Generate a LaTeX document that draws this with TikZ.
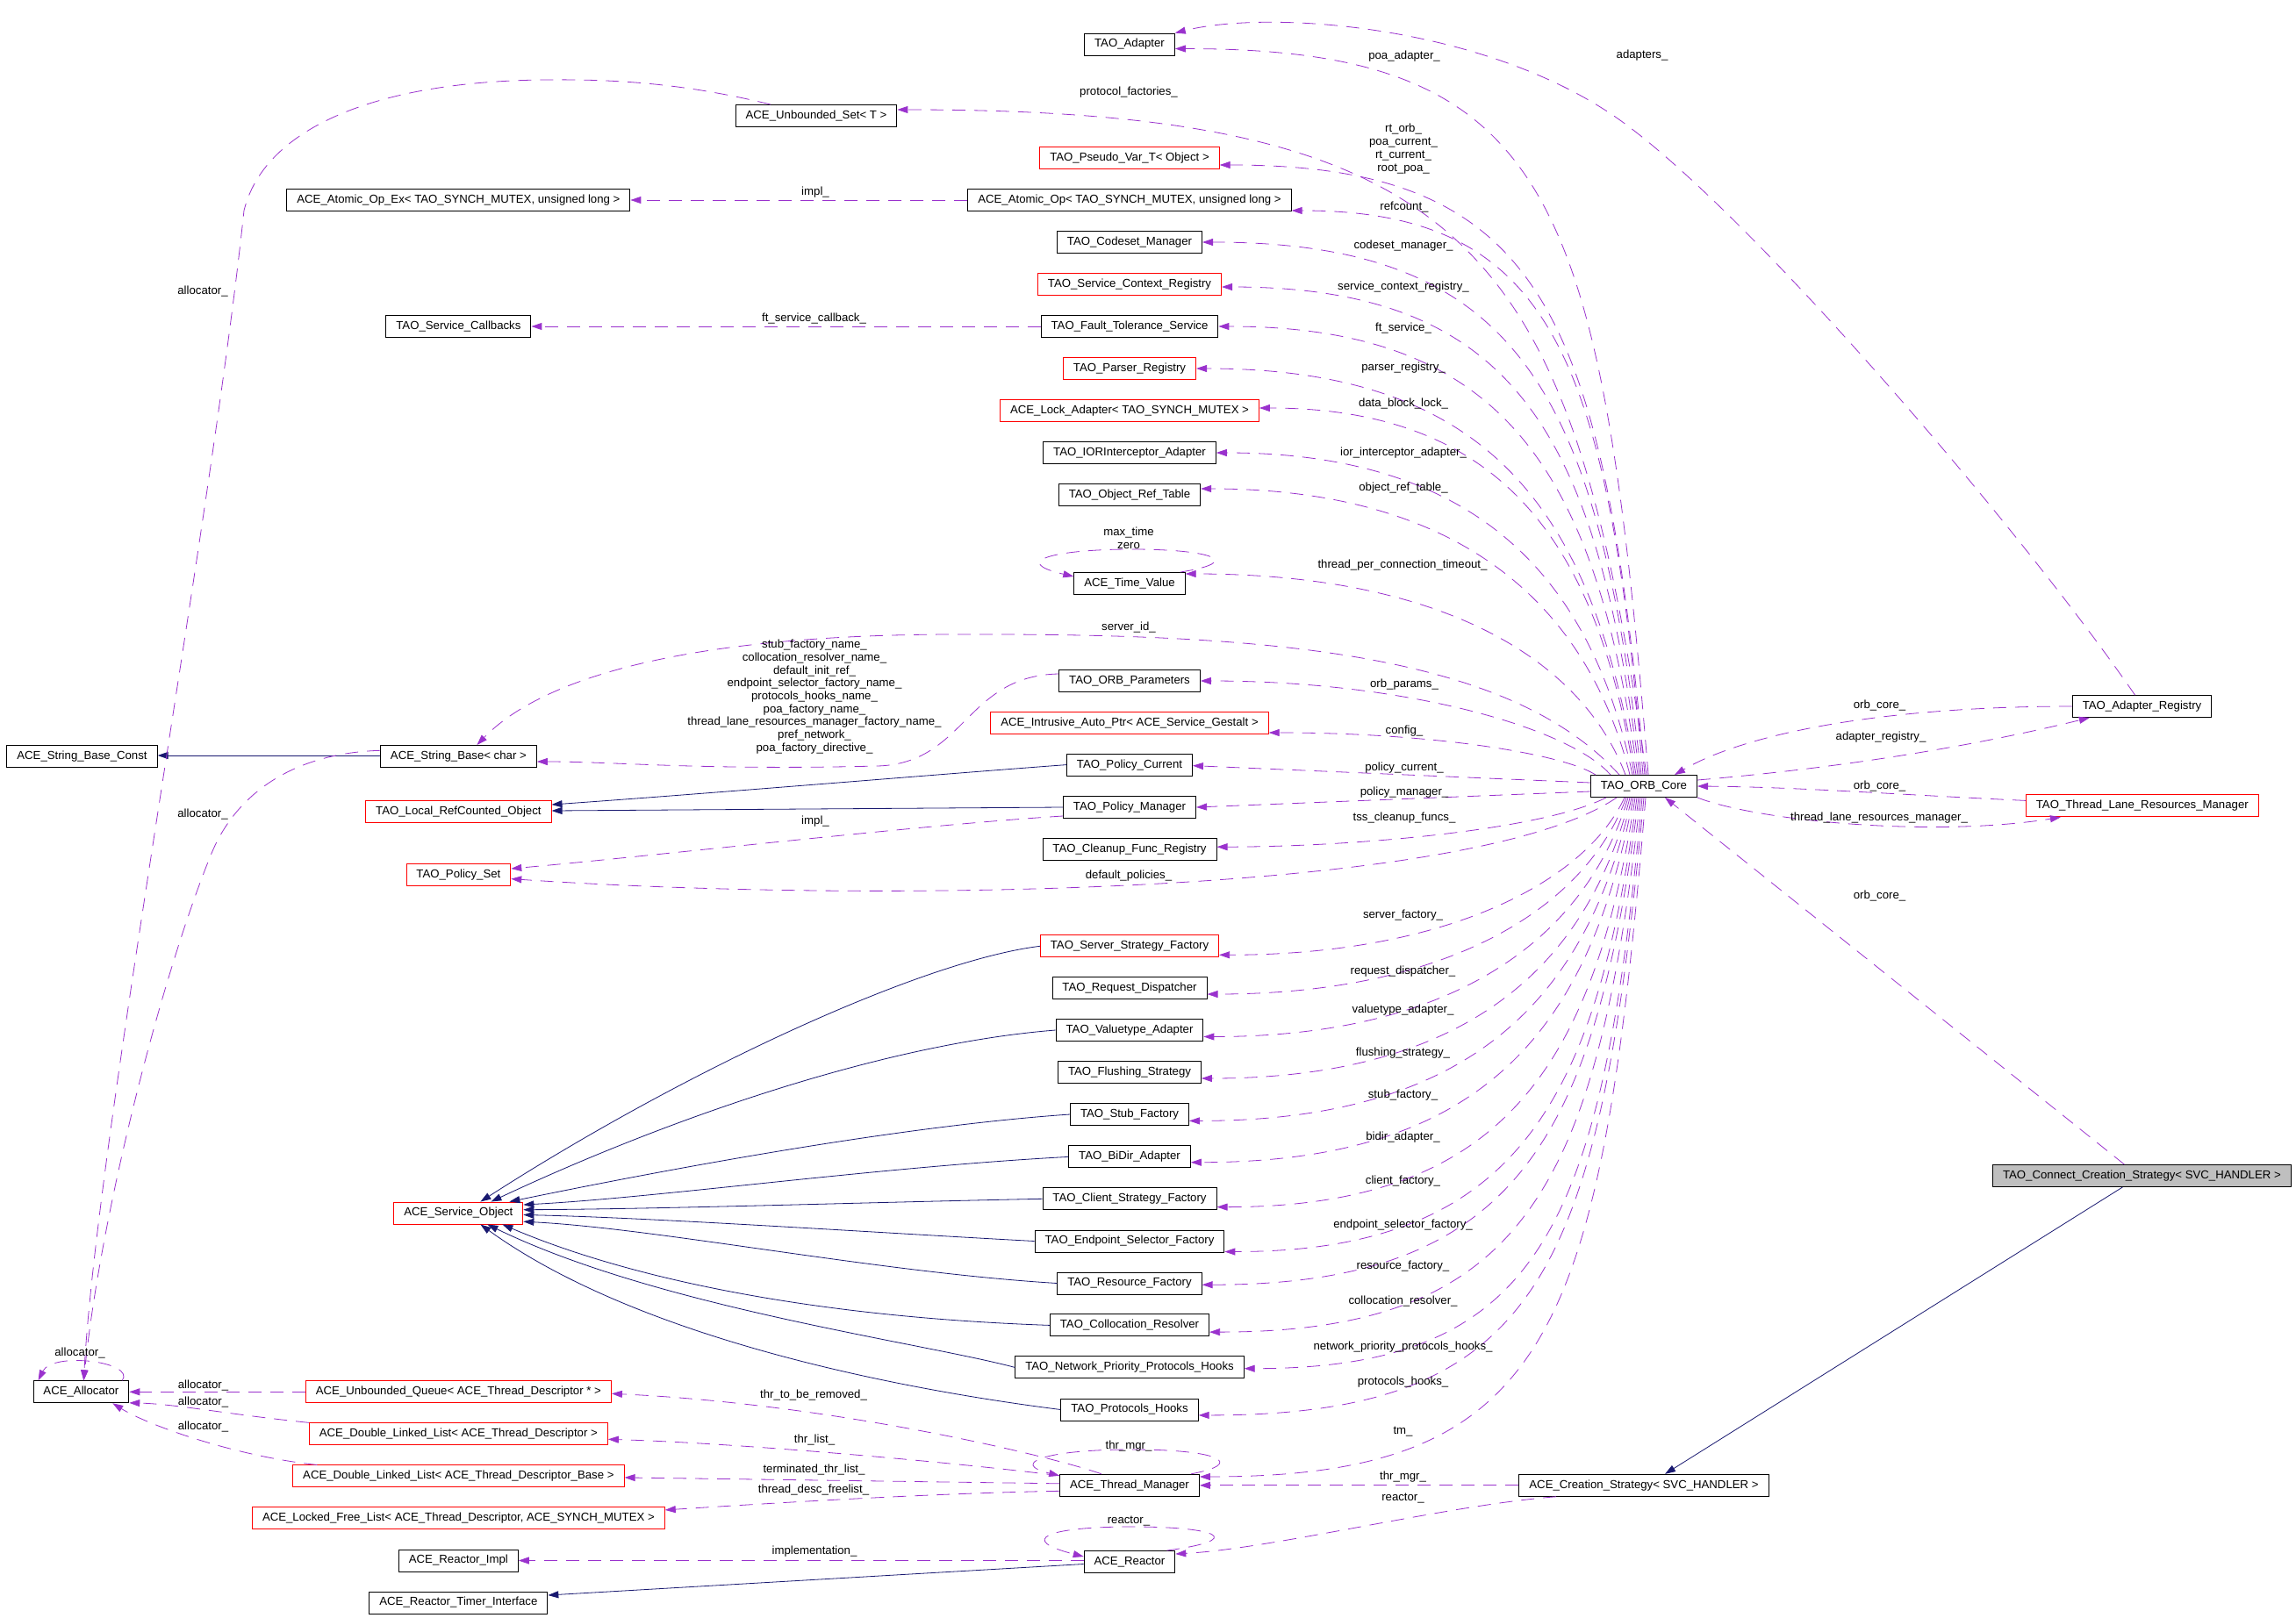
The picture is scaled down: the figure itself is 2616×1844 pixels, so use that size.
\documentclass[tikz,border=0pt]{standalone}
\usepackage{fontspec}
\setmainfont{Liberation Sans}
\usetikzlibrary{arrows.meta, calc}

\definecolor{usepurple}{HTML}{9A32CD}
\definecolor{inhnavy}{HTML}{191970}
\definecolor{selfgray}{HTML}{BFBFBF}

\begin{document}
\begin{tikzpicture}[x=1pt, y=-1pt,
  cls/.style={draw, line width=0.9pt, fill=white, minimum height=25pt, inner xsep=11.5pt, inner ysep=0pt, font=\fontsize{13.2}{15}\selectfont},
  part/.style={cls, draw=red},
  focus/.style={cls, fill=selfgray},
  lbl/.style={inner sep=0pt, align=center, font=\fontsize{13.2}{14.7}\selectfont},
  use/.style={draw=usepurple, line width=0.8pt, dash pattern=on 15pt off 10pt, -{Triangle[length=12pt,width=8pt]}},
  inh/.style={draw=inhnavy, line width=0.8pt, -{Triangle[length=12pt,width=8pt]}},
  fan/.style={to path={let \p1=(\tikztostart), \p2=(\tikztotarget) in
      .. controls ({\x1-0.1*(\x1-\x2)},{\y2+#1*(\y1-\y2)}) and ({\x2+(1-#1)*(\x1-\x2)},\y2) .. (\p2)}},
  fan/.default=0.3]
	\useasboundingbox (0,0) rectangle (2616,1844);

	% middle column
	\node [cls]  (adapter) at (1287,50.5)   {TAO\_Adapter};
	\node [part] (pvar)    at (1287,180)    {TAO\_Pseudo\_Var\_T< Object >};
	\node [cls]  (aop)     at (1287,228)    {ACE\_Atomic\_Op< TAO\_SYNCH\_MUTEX, unsigned long >};
	\node [cls]  (codeset) at (1287,276)    {TAO\_Codeset\_Manager};
	\node [part] (scr)     at (1287,324)    {TAO\_Service\_Context\_Registry};
	\node [cls]  (fts)     at (1287,372)    {TAO\_Fault\_Tolerance\_Service};
	\node [part] (parser)  at (1287,420)    {TAO\_Parser\_Registry};
	\node [part] (lock)    at (1287,468)    {ACE\_Lock\_Adapter< TAO\_SYNCH\_MUTEX >};
	\node [cls]  (ior)     at (1287,516)    {TAO\_IORInterceptor\_Adapter};
	\node [cls]  (ort)     at (1287,564)    {TAO\_Object\_Ref\_Table};
	\node [cls]  (tv)      at (1287,665)    {ACE\_Time\_Value};
	\node [cls]  (params)  at (1287,776)    {TAO\_ORB\_Parameters};
	\node [part] (iap)     at (1287,824)    {ACE\_Intrusive\_Auto\_Ptr< ACE\_Service\_Gestalt >};
	\node [cls]  (pcur)    at (1287,871.6)  {TAO\_Policy\_Current};
	\node [cls]  (pman)    at (1287,920)    {TAO\_Policy\_Manager};
	\node [cls]  (cfr)     at (1287,967.7)  {TAO\_Cleanup\_Func\_Registry};
	\node [part] (ssf)     at (1287,1078.3) {TAO\_Server\_Strategy\_Factory};
	\node [cls]  (rd)      at (1287,1126)   {TAO\_Request\_Dispatcher};
	\node [cls]  (vta)     at (1287,1174)   {TAO\_Valuetype\_Adapter};
	\node [cls]  (fs)      at (1287,1222)   {TAO\_Flushing\_Strategy};
	\node [cls]  (sf)      at (1287,1270)   {TAO\_Stub\_Factory};
	\node [cls]  (bidir)   at (1287,1318.4) {TAO\_BiDir\_Adapter};
	\node [cls]  (csf)     at (1287,1366.3) {TAO\_Client\_Strategy\_Factory};
	\node [cls]  (esf)     at (1287,1414.5) {TAO\_Endpoint\_Selector\_Factory};
	\node [cls]  (rf)      at (1287,1462.5) {TAO\_Resource\_Factory};
	\node [cls]  (cr)      at (1287,1510.4) {TAO\_Collocation\_Resolver};
	\node [cls]  (npph)    at (1287,1558.4) {TAO\_Network\_Priority\_Protocols\_Hooks};
	\node [cls]  (ph)      at (1287,1606.5) {TAO\_Protocols\_Hooks};
	\node [cls]  (tm)      at (1287,1692.8) {ACE\_Thread\_Manager};
	\node [cls]  (reactor) at (1287,1780)   {ACE\_Reactor};

	% left column
	\node [cls]  (aopex) at (522.4,228)    {ACE\_Atomic\_Op\_Ex< TAO\_SYNCH\_MUTEX, unsigned long >};
	\node [cls]  (scb)   at (522.4,372)    {TAO\_Service\_Callbacks};
	\node [cls]  (sbase) at (522.4,862)    {ACE\_String\_Base< char >};
	\node [part] (lrco)  at (522.4,925)    {TAO\_Local\_RefCounted\_Object};
	\node [part] (pset)  at (522.4,997)    {TAO\_Policy\_Set};
	\node [part] (so)    at (522.4,1382.5) {ACE\_Service\_Object};
	\node [part] (uq)    at (522.4,1586.3) {ACE\_Unbounded\_Queue< ACE\_Thread\_Descriptor * >};
	\node [part] (dll)   at (522.4,1634.3) {ACE\_Double\_Linked\_List< ACE\_Thread\_Descriptor >};
	\node [part] (dllb)  at (522.4,1682.4) {ACE\_Double\_Linked\_List< ACE\_Thread\_Descriptor\_Base >};
	\node [part] (lfl)   at (522.4,1730.4) {ACE\_Locked\_Free\_List< ACE\_Thread\_Descriptor, ACE\_SYNCH\_MUTEX >};
	\node [cls]  (rimpl) at (522.4,1778.5) {ACE\_Reactor\_Impl};
	\node [cls]  (rti)   at (522.4,1826.5) {ACE\_Reactor\_Timer\_Interface};

	\node [cls]   (uset)  at (930,132)       {ACE\_Unbounded\_Set< T >};
	\node [cls]   (sbc)   at (93.5,862)      {ACE\_String\_Base\_Const};
	\node [cls]   (alloc) at (92.4,1586.3)   {ACE\_Allocator};
	\node [cls]   (core)  at (1873,896)      {TAO\_ORB\_Core};
	\node [cls]   (cs)    at (1873,1692.8)   {ACE\_Creation\_Strategy< SVC\_HANDLER >};
	\node [cls]   (areg)  at (2440.5,805)    {TAO\_Adapter\_Registry};
	\node [part]  (tlrm)  at (2440.8,918.4)  {TAO\_Thread\_Lane\_Resources\_Manager};
	\node [focus] (ccs)   at (2440.4,1340)   {TAO\_Connect\_Creation\_Strategy< SVC\_HANDLER >};

	% ORB core, upper members
	\draw[use] ([xshift=5pt]core.north)   to[fan=0.2]  ([yshift=-5pt]adapter.east);
	\draw[use] ([xshift=3pt]core.north)   to[fan=0.22] ([yshift=7pt]uset.east);
	\draw[use] ([xshift=1pt]core.north)   to[fan=0.24] ([yshift=-8pt]pvar.east);
	\draw[use] ([xshift=-1pt]core.north)  to[fan=0.26] ([yshift=-12pt]aop.east);
	\draw[use] ([xshift=-3pt]core.north)  to[fan=0.28] (codeset.east);
	\draw[use] ([xshift=-5pt]core.north)  to[fan=0.3]  ([yshift=-3pt]scr.east);
	\draw[use] ([xshift=-7pt]core.north)  to[fan=0.32] (fts.east);
	\draw[use] ([xshift=-9pt]core.north)  to[fan=0.34] (parser.east);
	\draw[use] ([xshift=-11pt]core.north) to[fan=0.36] ([yshift=3pt]lock.east);
	\draw[use] ([xshift=-13pt]core.north) to[fan=0.38] (ior.east);
	\draw[use] ([xshift=-16pt]core.north) to[fan=0.4]  ([yshift=7pt]ort.east);
	\draw[use] ([xshift=-21pt]core.north) to[fan=0.42] ([yshift=11pt]tv.east);
	\draw[use] ([xshift=-28pt]core.north) .. controls (1720,745) and (1450,722) .. (1100,723)
		.. controls (760,722) and (610,780) .. ([xshift=21pt]sbase.north);
	\draw[use] ([xshift=-38pt]core.north) to[fan=0.5] (params.east);
	\draw[use] ([xshift=-55pt]core.north) to[fan=0.5] ([yshift=-11pt]iap.east);
	\draw[use] ([yshift=4pt]core.west) -- ([yshift=-1pt]pcur.east);
	\draw[use] ([yshift=-6pt]core.west) -- (pman.east);
	\draw[use] ([xshift=18pt]core.south west) .. controls (1760,945) and (1550,965) .. ([yshift=2.5pt]cfr.east);
	\draw[use] ([xshift=30pt]core.south west) .. controls (1680,1020) and (1000,1030) .. ([yshift=-4.6pt]pset.east);

	% ORB core, lower members
	\draw[use] ([xshift=-22pt]core.south) to[fan=0.45] ([yshift=-10pt]ssf.east);
	\draw[use] ([xshift=-20pt]core.south) to[fan=0.43] ([yshift=-7pt]rd.east);
	\draw[use] ([xshift=-18pt]core.south) to[fan=0.41] ([yshift=-7.5pt]vta.east);
	\draw[use] ([xshift=-16pt]core.south) to[fan=0.39] ([yshift=-7pt]fs.east);
	\draw[use] ([xshift=-14pt]core.south) to[fan=0.37] ([yshift=-7.4pt]sf.east);
	\draw[use] ([xshift=-12pt]core.south) to[fan=0.35] ([yshift=-6.3pt]bidir.east);
	\draw[use] ([xshift=-10pt]core.south) to[fan=0.33] ([yshift=-9.3pt]csf.east);
	\draw[use] ([xshift=-8pt]core.south)  to[fan=0.31] ([yshift=-12pt]esf.east);
	\draw[use] ([xshift=-6pt]core.south)  to[fan=0.29] ([yshift=-1.7pt]rf.east);
	\draw[use] ([xshift=-4pt]core.south)  to[fan=0.27] ([yshift=-7.7pt]cr.east);
	\draw[use] ([xshift=-2pt]core.south)  to[fan=0.25] ([yshift=-1.3pt]npph.east);
	\draw[use] (core.south)               to[fan=0.23] ([yshift=-6.4pt]ph.east);
	\draw[use] ([xshift=2pt]core.south)   to[fan=0.21] ([yshift=9.8pt]tm.east);

	% right side
	\draw[use] (areg.west) .. controls (2150,805) and (1990,835) .. ([xshift=-26pt]core.north east);
	\draw[use] ([yshift=7pt]core.east) .. controls (2100,875) and (2250,850) .. ([xshift=20pt]areg.south west);
	\draw[use] ([yshift=6pt]tlrm.west) .. controls (2150,905) and (2050,897) .. (core.east);
	\draw[use] (core.south east) .. controls (2000,935) and (2200,955) .. ([xshift=40pt]tlrm.south west);
	\draw[use] ([xshift=-20pt]ccs.north) -- ([xshift=24pt]core.south);
	\draw[inh] ([xshift=-22pt]ccs.south) -- ([xshift=24pt]cs.north);
	\draw[use] ([xshift=-8pt]areg.north) .. controls (2300,600) and (2000,250) .. (1850,140)
		.. controls (1700,30) and (1450,10) .. (adapter.north east);

	% left part
	\draw[use] (aop.west) -- (aopex.east);
	\draw[use] (fts.west) -- (scb.east);
	\draw[inh] ([yshift=1pt]sbase.west) -- ([yshift=1pt]sbc.east);
	\draw[use] ([yshift=8pt]params.west) .. controls (1100,770) and (1100,870) .. (1000,873)
		.. controls (800,878) and (700,868) .. ([yshift=-6pt]sbase.east);
	\draw[inh] (pcur.west) .. controls (1100,880) and (800,905) .. ([yshift=8pt]lrco.east);
	\draw[inh] (pman.west) -- ([yshift=1pt]lrco.east);
	\draw[use] ([yshift=-10pt]pman.west) .. controls (1050,940) and (750,975) .. ([yshift=7pt]pset.east);
	\draw[use] ([xshift=-52pt]uset.north) .. controls (780,95) and (700,90) .. (620,91)
		.. controls (420,93) and (300,150) .. (278,240)
		.. controls (240,600) and (110,1300) .. ([xshift=3pt]alloc.north);
	\draw[use] ([yshift=6.7pt]sbase.west) .. controls (340,858) and (270,900) .. (240,975)
		.. controls (185,1110) and (115,1380) .. ([xshift=3pt]alloc.north);
	\draw[use] ([xshift=-8pt]alloc.north east) .. controls (155,1552) and (60,1540) .. ([xshift=6pt]alloc.north west);

	% service objects
	\draw[inh] (ssf.west)   .. controls (1050,1095) and (780,1220) .. ([xshift=25pt]so.north);
	\draw[inh] (vta.west)   .. controls (1000,1190) and (750,1280) .. ([xshift=37pt]so.north);
	\draw[inh] (sf.west)    .. controls (1000,1285) and (700,1345) .. ([xshift=58pt]so.north);
	\draw[inh] (bidir.west) .. controls (1000,1330) and (750,1365) .. ([yshift=9.5pt]so.east);
	\draw[inh] (csf.west)   .. controls (1000,1370) and (750,1378) .. ([yshift=3.8pt]so.east);
	\draw[inh] (esf.west)   .. controls (1000,1405) and (750,1388) .. ([yshift=-2pt]so.east);
	\draw[inh] (rf.west)    .. controls (1000,1450) and (750,1400) .. ([yshift=-9.7pt]so.east);
	\draw[inh] (cr.west)    .. controls (900,1500) and (700,1450) .. ([xshift=50pt]so.south);
	\draw[inh] (npph.west)  .. controls (1050,1530) and (750,1490) .. ([xshift=33pt]so.south);
	\draw[inh] (ph.west)    .. controls (1000,1580) and (720,1520) .. ([xshift=25pt]so.south);

	% thread manager and reactor
	\draw[use] ([xshift=-32pt]tm.north) .. controls (1200,1660) and (950,1600) .. ([yshift=-2pt]uq.east);
	\draw[use] ([yshift=11pt]tm.west) .. controls (1100,1668) and (850,1645) .. ([yshift=-6pt]dll.east);
	\draw[use] ([yshift=2pt]tm.west) -- ([yshift=-1.5pt]dllb.east);
	\draw[use] ([yshift=-6.5pt]tm.west) .. controls (1050,1702) and (850,1715) .. ([yshift=9.5pt]lfl.east);
	\draw[use] ([xshift=-10pt]tm.north east) .. controls (1420,1668) and (1390,1652) .. (1290,1652)
		.. controls (1190,1652) and (1150,1668) .. ([yshift=11pt]tm.west);
	\draw[use] (cs.west) -- (tm.east);
	\draw[use] ([xshift=-100pt]cs.south) .. controls (1650,1715) and (1450,1765) .. ([yshift=9pt]reactor.east);
	\draw[use] ([xshift=-10pt]reactor.north east) .. controls (1420,1755) and (1390,1740) .. (1290,1740)
		.. controls (1190,1740) and (1160,1755) .. ([yshift=6pt]reactor.west);
	\draw[use] ([yshift=1.5pt]reactor.west) -- (rimpl.east);
	\draw[inh] ([yshift=-2.5pt]reactor.west) -- ([yshift=8.5pt]rti.east);
	\draw[use] ([xshift=-6pt]tv.north east) .. controls (1420,640) and (1380,626) .. (1290,626)
		.. controls (1200,626) and (1150,640) .. ([yshift=8pt]tv.west);

	% allocator
	\draw[use] (uq.west) -- (alloc.east);
	\draw[use] (dll.north west) .. controls (260,1612) and (200,1600) .. ([yshift=-12.5pt]alloc.east);
	\draw[use] ([xshift=28pt]dllb.north west) .. controls (270,1660) and (170,1625) .. ([xshift=-19pt]alloc.south east);

	% labels
	\node[lbl] (l-adapters) at (1871,63.3)   {adapters\_};
	\node[lbl] (l-poa)      at (1600,64.5)   {poa\_adapter\_};
	\node[lbl] (l-proto)    at (1286,105)    {protocol\_factories\_};
	\node[lbl] (l-pvar)     at (1599,169.6)  {rt\_orb\_\\poa\_current\_\\rt\_current\_\\root\_poa\_};
	\node[lbl] (l-refcount) at (1600,236.5)  {refcount\_};
	\node[lbl] (l-codeset)  at (1599,279.6)  {codeset\_manager\_};
	\node[lbl] (l-scr)      at (1599,327.4)  {service\_context\_registry\_};
	\node[lbl] (l-fts)      at (1599,374)    {ft\_service\_};
	\node[lbl] (l-parser)   at (1599,419.5)  {parser\_registry\_};
	\node[lbl] (l-lock)     at (1599,460)    {data\_block\_lock\_};
	\node[lbl] (l-ior)      at (1599,515.6)  {ior\_interceptor\_adapter\_};
	\node[lbl] (l-ort)      at (1599,556.3)  {object\_ref\_table\_};
	\node[lbl] (l-tvself)   at (1286,613.5)  {max\_time\\zero};
	\node[lbl] (l-tv)       at (1598,643.7)  {thread\_per\_connection\_timeout\_};
	\node[lbl] (l-sid)      at (1286,714.9)  {server\_id\_};
	\node[lbl] (l-params)   at (1600,779.7)  {orb\_params\_};
	\node[lbl] (l-config)   at (1600,832.7)  {config\_};
	\node[lbl] (l-pcur)     at (1600,874.6)  {policy\_current\_};
	\node[lbl] (l-pman)     at (1600,902.7)  {policy\_manager\_};
	\node[lbl] (l-cfr)      at (1600,931.6)  {tss\_cleanup\_funcs\_};
	\node[lbl] (l-dpol)     at (1286,998.4)  {default\_policies\_};
	\node[lbl] (l-ssf)      at (1598.5,1043.5) {server\_factory\_};
	\node[lbl] (l-rd)       at (1598.5,1107.5) {request\_dispatcher\_};
	\node[lbl] (l-vta)      at (1598.5,1151.4) {valuetype\_adapter\_};
	\node[lbl] (l-fs)       at (1598.5,1199.7) {flushing\_strategy\_};
	\node[lbl] (l-sf)       at (1598.5,1247.7) {stub\_factory\_};
	\node[lbl] (l-bidir)    at (1598.5,1296.2) {bidir\_adapter\_};
	\node[lbl] (l-csf)      at (1598.5,1346.3) {client\_factory\_};
	\node[lbl] (l-esf)      at (1598.5,1396.4) {endpoint\_selector\_factory\_};
	\node[lbl] (l-rf)       at (1598.5,1443.4) {resource\_factory\_};
	\node[lbl] (l-cr)       at (1598.5,1482.7) {collocation\_resolver\_};
	\node[lbl] (l-npph)     at (1598.5,1535.5) {network\_priority\_protocols\_hooks\_};
	\node[lbl] (l-ph)       at (1598.5,1575.5) {protocols\_hooks\_};
	\node[lbl] (l-tm)       at (1598.5,1631.8) {tm\_};
	\node[lbl] (l-tmself)   at (1286,1648)     {thr\_mgr\_};
	\node[lbl] (l-csthr)    at (1598.5,1683.4) {thr\_mgr\_};
	\node[lbl] (l-csreac)   at (1598.5,1707.3) {reactor\_};
	\node[lbl] (l-reself)   at (1286,1734)     {reactor\_};
	\node[lbl] (l-impl1)    at (929,219.5)     {impl\_};
	\node[lbl] (l-ftcb)     at (927.5,363)     {ft\_service\_callback\_};
	\node[lbl] (l-names)    at (928,794)       {stub\_factory\_name\_\\collocation\_resolver\_name\_\\default\_init\_ref\_\\endpoint\_selector\_factory\_name\_\\protocols\_hooks\_name\_\\poa\_factory\_name\_\\thread\_lane\_resources\_manager\_factory\_name\_\\pref\_network\_\\poa\_factory\_directive\_};
	\node[lbl] (l-impl2)    at (929,936.3)     {impl\_};
	\node[lbl] (l-alloc1)   at (231,332.5)     {allocator\_};
	\node[lbl] (l-alloc2)   at (231,928.4)     {allocator\_};
	\node[lbl] (l-allocself) at (91,1542)      {allocator\_};
	\node[lbl] (l-alloc3)   at (231.5,1579)    {allocator\_};
	\node[lbl] (l-alloc4)   at (231.5,1598.2)  {allocator\_};
	\node[lbl] (l-alloc5)   at (231.5,1626.4)  {allocator\_};
	\node[lbl] (l-thrrm)    at (927,1590.5)    {thr\_to\_be\_removed\_};
	\node[lbl] (l-thrlist)  at (928,1640.6)    {thr\_list\_};
	\node[lbl] (l-term)     at (927.5,1675.3)  {terminated\_thr\_list\_};
	\node[lbl] (l-free)     at (927,1698.4)    {thread\_desc\_freelist\_};
	\node[lbl] (l-implem)   at (928,1768.5)    {implementation\_};
	\node[lbl] (l-oc1)      at (2141.5,803.9)  {orb\_core\_};
	\node[lbl] (l-areg)     at (2143,840.2)    {adapter\_registry\_};
	\node[lbl] (l-oc2)      at (2141.5,895.6)  {orb\_core\_};
	\node[lbl] (l-tlrm)     at (2141,931.6)    {thread\_lane\_resources\_manager\_};
	\node[lbl] (l-oc3)      at (2141.5,1020.6) {orb\_core\_};
\end{tikzpicture}
\end{document}
